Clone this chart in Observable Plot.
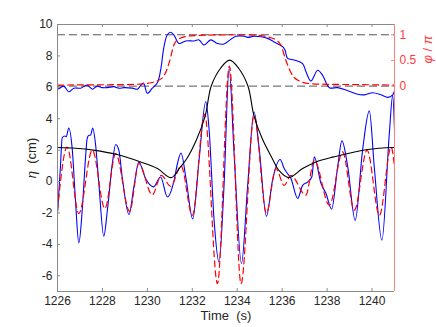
<!DOCTYPE html>
<html><head><meta charset="utf-8">
<script src="https://cdn.jsdelivr.net/npm/d3@7"></script>
<script src="https://cdn.jsdelivr.net/npm/@observablehq/plot@0.6"></script>
<style>body{margin:0;background:#fff;} svg{display:block}</style>
</head><body><div id="chart"></div>
<script>
// ---- tick labels / reference values ----
const xTicks = [1226, 1228, 1230, 1232, 1234, 1236, 1238, 1240];
const yTicks = [-6, -4, -2, 0, 2, 4, 6, 8, 10];
const phiTicks = [0, 0.5, 1];
const phiRefLines = [0, 1];
const X_DOMAIN = [1226, 1241];
const Y_DOMAIN = [-7, 10];
const PHI_DOMAIN = [-4, 1.2];

// ---- measured surface elevation eta (cm), [time s, eta] ----
const waveMeasured = [
  [1226.00,-2.04],[1226.13,0.93],[1226.21,2.8],[1226.33,2.9],[1226.39,2.85],[1226.50,3.41],
  [1226.66,2.0],[1226.80,-1.2],[1226.95,-3.91],[1227.10,-1.83],[1227.25,1.57],[1227.32,2.74],
  [1227.40,2.95],[1227.47,2.95],[1227.57,3.41],[1227.69,2.42],[1227.84,-0.13],[1228.06,-3.48],
  [1228.22,-1.83],[1228.44,1.15],[1228.59,2.36],[1228.73,2.0],[1228.88,0.29],[1229.18,-2.1],
  [1229.40,-0.34],[1229.62,1.25],[1229.92,0.19],[1230.27,-0.34],[1230.59,0.29],[1230.89,-0.98],
  [1231.19,0.08],[1231.34,1.15],[1231.50,1.82],[1231.71,0.29],[1232.02,-2.38],[1232.30,1.36],
  [1232.60,5.1],[1232.75,3.27],[1232.97,-2.47],[1233.19,-5.12],[1233.41,-0.34],[1233.64,7.2],
  [1233.86,1.78],[1234.19,-5.22],[1234.46,-0.34],[1234.75,4.43],[1234.97,2.2],[1235.30,-2.21],
  [1235.57,0.08],[1235.91,1.4],[1236.09,0.83],[1236.24,0.51],[1236.39,0.19],[1236.69,-1.08],
  [1236.91,-0.24],[1237.13,-0.03],[1237.32,0.29],[1237.43,1.57],[1237.73,-0.13],[1237.95,-0.76],
  [1238.20,-1.76],[1238.47,0.93],[1238.66,2.59],[1238.92,0.93],[1239.25,-2.47],[1239.58,2.0],
  [1239.88,4.5],[1240.10,0.93],[1240.44,-3.74],[1240.77,3.06],[1240.92,5.5],[1241.00,3.3]
];

// ---- model surface elevation eta (cm) ----
const waveModel = [
  [1226.00,-1.83],[1226.43,2.2],[1226.95,-2.04],[1227.55,2.0],[1228.11,-1.72],[1228.59,1.78],
  [1229.21,-1.9],[1229.62,1.15],[1230.22,-0.85],[1230.62,0.4],[1231.04,-0.3],[1231.50,1.0],
  [1232.00,-2.15],[1232.55,4.3],[1233.12,-6.5],[1233.65,7.35],[1234.17,-6.5],[1234.75,4.2],
  [1235.30,-2.0],[1235.72,0.83],[1236.09,-0.24],[1236.39,0.4],[1237.05,-0.87],[1237.43,1.36],
  [1238.10,-1.5],[1238.69,1.89],[1239.21,-1.83],[1239.78,2.0],[1240.33,-2.15],[1240.85,2.2],
  [1241.00,0.93]
];

// ---- envelope (cm) ----
const envelope = [
  [1226.0,2.17],[1226.8,2.12],[1227.6,2.0],[1228.65,1.72],[1229.7,1.25],[1230.45,0.83],
  [1231.06,0.25],[1231.47,0.93],[1231.76,1.47],[1232.21,2.74],[1232.58,4.22],[1232.84,6.07],
  [1233.25,7.2],[1233.66,7.73],[1234.07,7.2],[1234.48,6.07],[1234.74,4.22],[1235.11,2.74],
  [1235.56,1.47],[1235.85,0.72],[1236.29,0.25],[1236.91,0.83],[1237.5,1.25],[1238.3,1.57],
  [1239.8,2.04],[1241.0,2.17]
];

// ---- phase phi/pi, measured ----
const phaseMeasured = [
  [1226.0,-0.06],[1226.13,-0.03],[1226.28,0],[1226.5,-0.11],[1226.73,-0.04],[1227.03,-0.04],
  [1227.32,0.02],[1227.55,-0.06],[1227.77,0],[1227.99,-0.03],[1228.22,-0.03],[1228.51,-0.01],
  [1228.73,-0.04],[1228.96,-0.03],[1229.33,-0.04],[1229.55,-0.06],[1229.82,0.06],[1230.0,-0.14],
  [1230.22,-0.04],[1230.44,0.06],[1230.59,0.31],[1230.74,0.77],[1230.89,1.0],[1231.04,1.05],
  [1231.19,0.99],[1231.41,0.83],[1231.71,0.88],[1232.08,0.88],[1232.30,0.9],[1232.52,0.8],
  [1232.82,0.9],[1233.12,0.83],[1233.41,0.82],[1233.71,0.91],[1233.94,0.97],[1234.31,0.97],
  [1234.46,0.95],[1234.75,0.97],[1235.05,0.96],[1235.35,0.93],[1235.64,0.86],[1236.02,0.77],
  [1236.13,0.7],[1236.24,0.54],[1236.53,0.51],[1236.91,0.44],[1237.06,0.28],[1237.28,0.1],
  [1237.58,0.31],[1237.80,0.21],[1238.10,-0.03],[1238.47,-0.03],[1238.92,-0.09],[1239.36,-0.16],
  [1239.66,-0.17],[1240.03,-0.13],[1240.40,-0.17],[1240.70,-0.22],[1240.92,-0.17],[1241.0,-0.09]
];

// ---- phase phi/pi, model ----
const phaseModel = [
  [1226.0,0.02],[1227.5,0.025],[1229.0,0.03],[1229.7,0.04],[1230.2,0.07],[1230.44,0.1],
  [1230.74,0.2],[1231.0,0.5],[1231.18,0.8],[1231.4,0.92],[1231.93,0.98],[1233.6,1.0],
  [1234.4,1.0],[1235.13,0.98],[1235.45,0.95],[1235.72,0.9],[1235.94,0.8],[1236.16,0.51],
  [1236.46,0.21],[1236.76,0.1],[1237.2,0.05],[1238.0,0.035],[1239.1,0.03],[1241.0,0.02]
];

const phiToEta = p => Y_DOMAIN[0] + (p - PHI_DOMAIN[0]) * (Y_DOMAIN[1] - Y_DOMAIN[0]) / (PHI_DOMAIN[1] - PHI_DOMAIN[0]);

const W = 436, H = 327, mL = 57, mR = 42, mT = 24, mB = 36;
const plotW = W - mL - mR, plotH = H - mT - mB;
const TICK = 3;
const AX = "#8a8a8a", TXT = "#262626", RED = "#ff3c3c", REDAX = "#ff8080";
const BLUE = "#0000ff";

const chart = Plot.plot({
  width: W, height: H,
  marginLeft: mL, marginRight: mR, marginTop: mT, marginBottom: mB,
  x: {domain: X_DOMAIN, axis: null},
  y: {domain: Y_DOMAIN, axis: null},
  style: {fontFamily: "'Liberation Sans', Arial, sans-serif", fontSize: "12px", background: "white", overflow: "visible"},
  marks: [
    Plot.ruleY(phiRefLines, {y: phiToEta, stroke: "#555", strokeWidth: 1, strokeDasharray: "8,4"}),
    Plot.line(waveMeasured, {x: d => d[0], y: d => d[1], stroke: BLUE, strokeWidth: 1.1, curve: "monotone-x", clip: true}),
    Plot.line(phaseMeasured, {x: d => d[0], y: d => phiToEta(d[1]), stroke: BLUE, strokeWidth: 1.1, curve: "catmull-rom", clip: true}),
    Plot.line(waveModel, {x: d => d[0], y: d => d[1], stroke: "#ff0000", strokeWidth: 1.2, strokeDasharray: "6,4", curve: "monotone-x", clip: true}),
    Plot.line(phaseModel, {x: d => d[0], y: d => phiToEta(d[1]), stroke: "#ff0000", strokeWidth: 1.2, strokeDasharray: "6,4", curve: "monotone-x", clip: true}),
    Plot.line(envelope, {x: d => d[0], y: d => d[1], stroke: "#000", strokeWidth: 1.1, curve: "catmull-rom", clip: true}),
    // box
    Plot.ruleX([X_DOMAIN[0]], {stroke: AX}),
    Plot.ruleY([Y_DOMAIN[0], Y_DOMAIN[1]], {stroke: AX}),
    Plot.ruleX([X_DOMAIN[1]], {stroke: REDAX}),
    // ticks (inward)
    Plot.ruleX(xTicks, {stroke: AX, insetTop: plotH - TICK}),
    Plot.ruleX(xTicks, {stroke: AX, insetBottom: plotH - TICK}),
    Plot.ruleY(yTicks, {stroke: AX, insetRight: plotW - TICK}),
    Plot.ruleY(phiTicks, {y: phiToEta, stroke: REDAX, insetLeft: plotW - TICK}),
    // tick labels
    Plot.text(xTicks, {x: d => d, text: d => String(d), frameAnchor: "bottom", dy: 13, fill: TXT, fontSize: 12}),
    Plot.text(yTicks, {y: d => d, text: d => String(d), frameAnchor: "left", dx: -5, textAnchor: "end", fill: TXT, fontSize: 12}),
    Plot.text(phiTicks, {y: phiToEta, text: d => String(d), frameAnchor: "right", dx: 5, textAnchor: "start", fill: RED, fontSize: 12}),
    // axis labels
    Plot.text(["Time\u00a0\u00a0(s)"], {frameAnchor: "bottom", dy: 28, textAnchor: "middle", fill: TXT, fontSize: 13}),
    Plot.text(["η\u00a0\u00a0(cm)"], {frameAnchor: "left", dx: -26, rotate: -90, textAnchor: "middle", fill: TXT, fontSize: 13}),
    Plot.text(["φ / π"], {frameAnchor: "top-right", dx: 28, dy: 25, rotate: -90, textAnchor: "middle", fill: RED, fontSize: 13})
  ]
});

// italic Greek symbols (TeX-style)
chart.querySelectorAll("text").forEach(t => {
  const s = t.textContent;
  if (s === "η\u00a0\u00a0(cm)" || s === "φ / π") {
    const parts = s === "φ / π" ? [["φ", true], ["\u00a0/\u00a0", false], ["π", true]] : [["η", true], ["\u00a0\u00a0(cm)", false]];
    t.textContent = "";
    for (const [str, it] of parts) {
      const ts = document.createElementNS("http://www.w3.org/2000/svg", "tspan");
      ts.textContent = str;
      if (it) ts.setAttribute("font-style", "italic");
      t.appendChild(ts);
    }
  }
});

document.getElementById("chart").appendChild(chart);
</script>
</body></html>
